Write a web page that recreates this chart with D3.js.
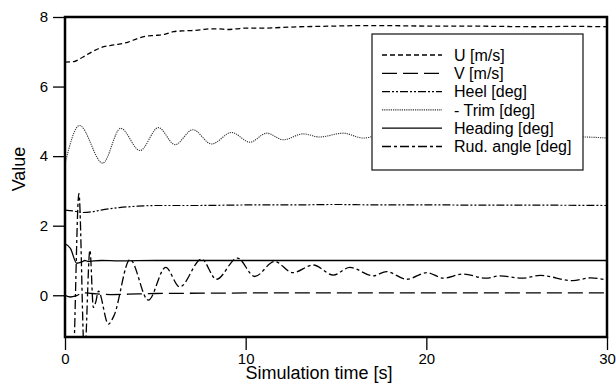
<!DOCTYPE html>
<html>
<head>
<meta charset="utf-8">
<script src="https://cdn.jsdelivr.net/npm/d3@7"></script>
<style>
  body { margin: 0; background: #fff; }
  svg { font-family: "Liberation Sans", Arial, sans-serif; }
</style>
</head>
<body>
<div id="chart"></div>
<script>
// series: [time s, value]
const uSpeed = [[0,6.70],[0.5,6.72],[1,6.85],[1.5,7.0],[2,7.12],[2.5,7.18],[3,7.22],[3.5,7.28],[4,7.38],[4.5,7.45],[5,7.47],[5.5,7.5],[6,7.58],[6.5,7.6],[7,7.61],[7.5,7.63],[8,7.66],[8.5,7.66],[9,7.64],[9.5,7.66],[10,7.68],[11,7.68],[12,7.70],[13,7.72],[14,7.73],[15,7.74],[16,7.75],[18,7.75],[20,7.74],[22,7.74],[24,7.73],[26,7.72],[28,7.73],[30,7.72]];
const vSpeed = [[0,0.0],[0.3,-0.05],[0.6,-0.02],[1.0,0.07],[1.5,0.05],[2.5,0.02],[3.5,0.03],[5,0.05],[8,0.06],[12,0.07],[20,0.07],[30,0.07]];
const heel = [[0,2.45],[0.5,2.42],[1.0,2.38],[1.5,2.40],[2,2.45],[3,2.52],[4,2.56],[5,2.58],[7,2.58],[9,2.59],[11,2.60],[13,2.60],[15,2.61],[17,2.60],[20,2.60],[23,2.59],[26,2.59],[30,2.58]];
const trim = [[0,3.78],[0.8,4.88],[2.09,3.80],[3.08,4.80],[4.15,4.16],[5.17,4.82],[6.09,4.33],[7.07,4.76],[8.12,4.35],[9.22,4.68],[10.24,4.40],[11.16,4.66],[12.08,4.47],[13.19,4.64],[14.1,4.55],[15.4,4.66],[16.5,4.52],[17.6,4.62],[18.7,4.53],[19.8,4.60],[20.9,4.54],[22,4.59],[23.1,4.54],[24.2,4.58],[25.3,4.54],[26.4,4.57],[27.5,4.54],[28.6,4.55],[30,4.52]];
const heading = [[0,1.48],[0.3,1.35],[0.65,0.92],[0.9,0.95],[1.1,1.0],[1.3,0.97],[1.6,0.99],[2,1.0],[3,0.99],[5,1.0],[10,1.0],[20,1.0],[30,1.0]];
const rudder = [[0,-4],[0.45,-2.2],[0.77,2.93],[1.08,-1.8],[1.38,1.30],[1.57,-0.35],[1.7,-0.2],[1.85,0.12],[2.4,-0.83],[2.7,-0.6],[3.6,1.03],[4.61,-0.14],[5.57,0.80],[6.35,0.24],[7.56,1.04],[8.38,0.46],[9.54,1.07],[10.5,0.54],[11.6,0.97],[12.6,0.65],[13.74,0.87],[14.85,0.58],[15.77,0.80],[17.06,0.56],[17.8,0.68],[18.9,0.46],[20.05,0.65],[20.94,0.49],[22.04,0.61],[23.3,0.49],[24.07,0.56],[25.3,0.49],[26.3,0.57],[28.1,0.42],[29.1,0.50],[30,0.44]];

const seriesNames = ["U [m/s]", "V [m/s]", "Heel [deg]", "- Trim [deg]", "Heading [deg]", "Rud. angle [deg]"];
const xTicks = [0, 10, 20, 30];
const yTicks = [0, 2, 4, 6, 8];

const width = 616, height = 383;
const margin = { top: 17, right: 9, bottom: 46, left: 65 };

const svg = d3.select("#chart").append("svg")
    .attr("width", width)
    .attr("height", height);

const x = d3.scaleLinear().domain([0, 30]).range([margin.left, width - margin.right]);
const y = d3.scaleLinear().domain([-1.2, 8]).range([height - margin.bottom, margin.top]);

// line styles, same order as seriesNames
const styles = [
    { dash: "5,3", w: 1.3, c: "#000" },
    { dash: "15,6", w: 1.3, c: "#000" },
    { dash: "8,2,2,2,2,2", w: 1.2, c: "#000" },
    { dash: "1.2,1", w: 1.1, c: "#333" },
    { dash: null, w: 1.3, c: "#000" },
    { dash: "9,3,3,3", w: 1.3, c: "#000" }
];
const allSeries = [uSpeed, vSpeed, heel, trim, heading, rudder];

svg.append("clipPath").attr("id", "plot-clip")
    .append("rect")
    .attr("x", margin.left).attr("y", margin.top)
    .attr("width", width - margin.left - margin.right)
    .attr("height", height - margin.top - margin.bottom);

const line = d3.line()
    .x(d => x(d[0]))
    .y(d => y(d[1]))
    .curve(d3.curveMonotoneX);

svg.append("g").attr("clip-path", "url(#plot-clip)")
    .selectAll("path")
    .data(allSeries)
    .join("path")
    .attr("d", line)
    .attr("fill", "none")
    .attr("stroke", (d, i) => styles[i].c)
    .attr("stroke-width", (d, i) => styles[i].w)
    .attr("stroke-dasharray", (d, i) => styles[i].dash);

// axes
const xAxis = svg.append("g")
    .attr("transform", `translate(0, ${height - margin.bottom})`)
    .call(d3.axisBottom(x).tickValues(xTicks).tickSize(13).tickPadding(3));
const yAxis = svg.append("g")
    .attr("transform", `translate(${margin.left}, 0)`)
    .call(d3.axisLeft(y).tickValues(yTicks).tickSize(12).tickPadding(5));

[xAxis, yAxis].forEach(g => {
    g.select(".domain").remove();
    g.selectAll(".tick line").attr("stroke", "#000").attr("stroke-width", 1.3);
    g.selectAll(".tick text")
        .attr("fill", "#000")
        .style("font-size", "15px")
        .style("font-family", "Liberation Sans, Arial, sans-serif");
});

// frame
svg.append("rect")
    .attr("x", margin.left).attr("y", margin.top)
    .attr("width", width - margin.left - margin.right)
    .attr("height", height - margin.top - margin.bottom)
    .attr("fill", "none")
    .attr("stroke", "#000")
    .attr("stroke-width", 2.5);

// axis titles
svg.append("text")
    .attr("x", 319).attr("y", 379)
    .attr("text-anchor", "middle")
    .style("font-size", "18px")
    .text("Simulation time [s]");

svg.append("text")
    .attr("transform", "translate(25, 169) rotate(-90)")
    .attr("text-anchor", "middle")
    .style("font-size", "18px")
    .text("Value");

// legend
const legend = svg.append("g");
legend.append("rect")
    .attr("x", 372).attr("y", 34)
    .attr("width", 211).attr("height", 136)
    .attr("fill", "#fff")
    .attr("stroke", "#222")
    .attr("stroke-width", 1.3);

const rows = legend.selectAll("g.row")
    .data(seriesNames)
    .join("g")
    .attr("class", "row")
    .attr("transform", (d, i) => `translate(0, ${55 + i * 18.3})`);

rows.append("line")
    .attr("x1", 382).attr("x2", 442)
    .attr("stroke", (d, i) => styles[i].c)
    .attr("stroke-width", (d, i) => styles[i].w)
    .attr("stroke-dasharray", (d, i) => styles[i].dash);

rows.append("text")
    .attr("x", 454)
    .attr("dy", "0.35em")
    .style("font-size", "16px")
    .text(d => d);
</script>
</body>
</html>
